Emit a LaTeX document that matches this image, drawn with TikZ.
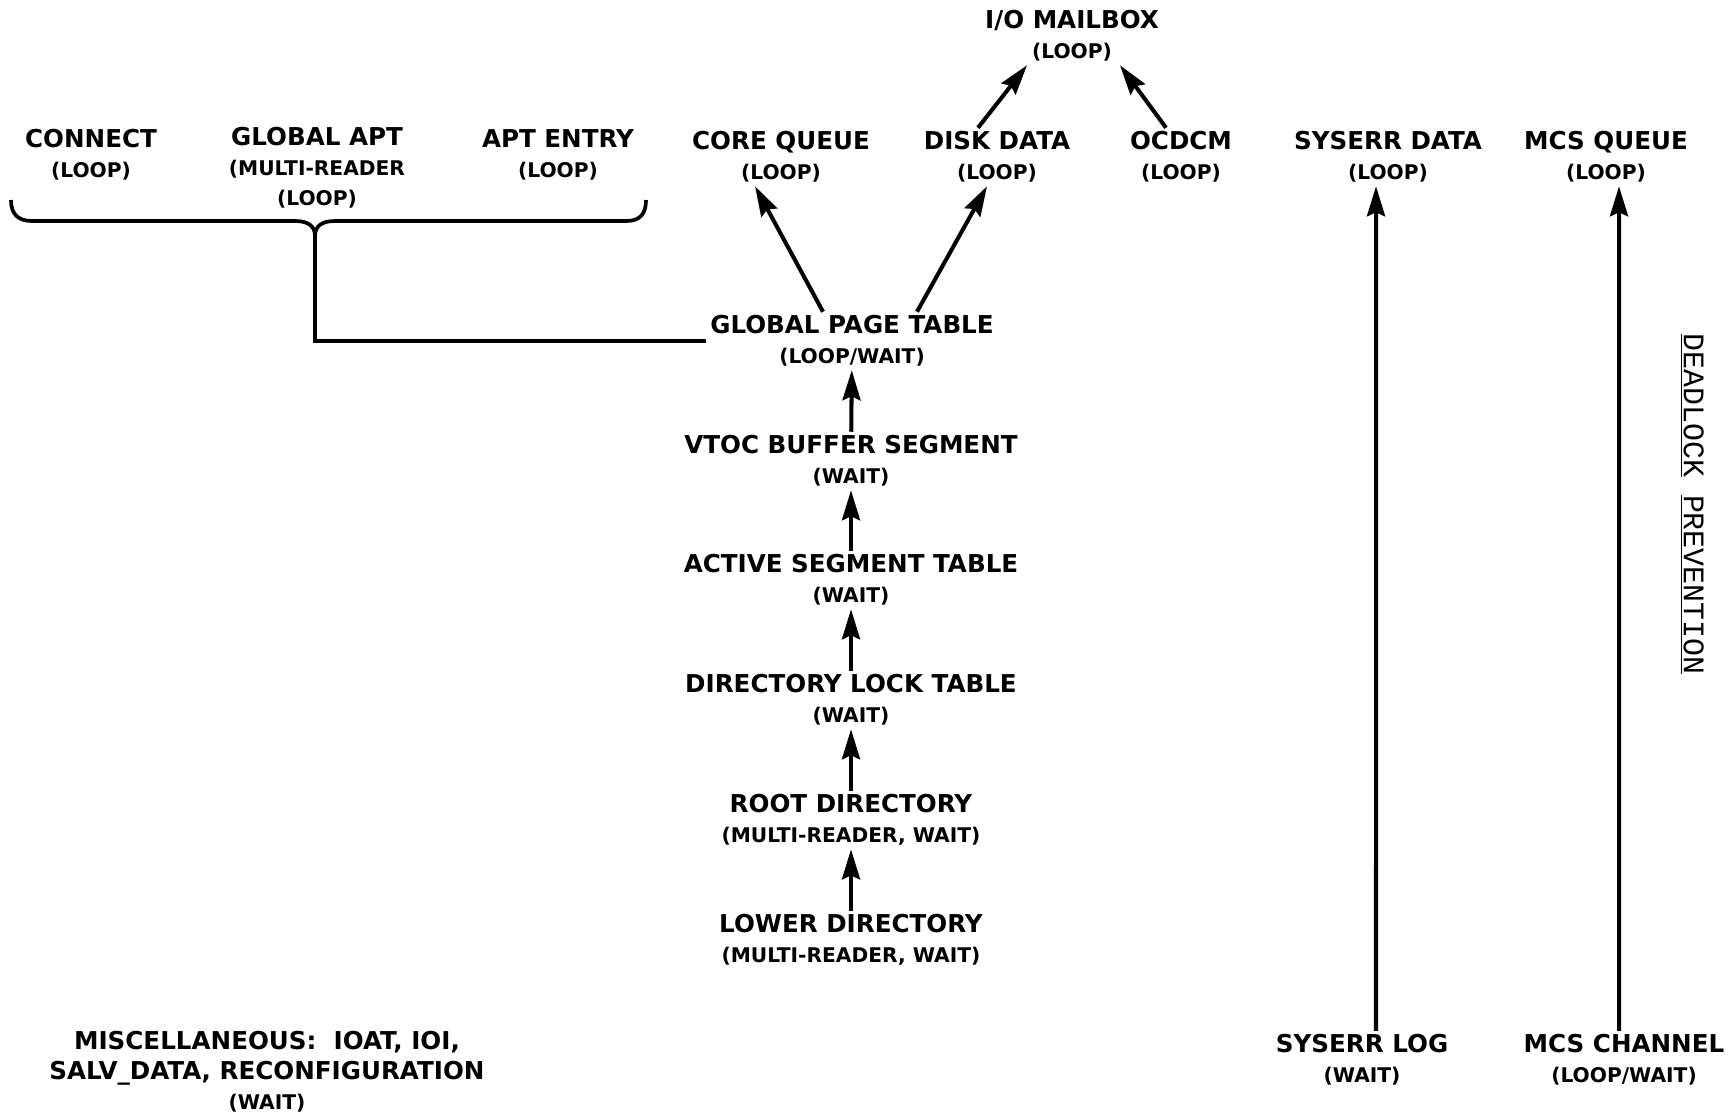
\documentclass[tikz,border=0pt]{standalone}
\usepackage{fontspec}
\setmainfont{DejaVu Sans}
\newfontfamily\typefont{Liberation Mono}
\usetikzlibrary{arrows.meta}

% smaller line under each lock name
\newcommand{\lockmode}[1]{{\fontsize{11.5}{14}\selectfont #1}}

\begin{document}
\begin{tikzpicture}[
    x=0.02cm, y=-0.02cm,
    lock/.style={align=center, inner sep=2pt, font=\fontsize{14}{17}\selectfont\bfseries},
    arrow/.style={-{Stealth[length=6mm, width=3.6mm, inset=0.8mm]}, line width=2.3pt},
    link/.style={line width=2.1pt}
]
\useasboundingbox (0,0) rectangle (1733,1119);

% Top row
\node[lock] (iomail) at (1072,36) {I/O MAILBOX\\\lockmode{(LOOP)}};
\node[lock] (connect) at (91,155) {CONNECT\\\lockmode{(LOOP)}};
\node[lock] (globalapt) at (317,168) {GLOBAL APT\\\lockmode{(MULTI-READER}\\\lockmode{(LOOP)}};
\node[lock] (aptentry) at (558,155) {APT ENTRY\\\lockmode{(LOOP)}};
\node[lock] (corequeue) at (781,157) {CORE QUEUE\\\lockmode{(LOOP)}};
\node[lock] (diskdata) at (997,157) {DISK DATA\\\lockmode{(LOOP)}};
\node[lock] (ocdcm) at (1181,157) {OCDCM\\\lockmode{(LOOP)}};
\node[lock] (syserrdata) at (1388,157) {SYSERR DATA\\\lockmode{(LOOP)}};
\node[lock] (mcsqueue) at (1606,157) {MCS QUEUE\\\lockmode{(LOOP)}};

% Central chain
\node[lock] (gpt) at (852,341) {GLOBAL PAGE TABLE\\\lockmode{(LOOP/WAIT)}};
\node[lock] (vtoc) at (851,461) {VTOC BUFFER SEGMENT\\\lockmode{(WAIT)}};
\node[lock] (ast) at (851,580) {ACTIVE SEGMENT TABLE\\\lockmode{(WAIT)}};
\node[lock] (dlt) at (851,700) {DIRECTORY LOCK TABLE\\\lockmode{(WAIT)}};
\node[lock] (root) at (851,820) {ROOT DIRECTORY\\\lockmode{(MULTI-READER, WAIT)}};
\node[lock] (lower) at (851,940) {LOWER DIRECTORY\\\lockmode{(MULTI-READER, WAIT)}};

% Bottom row
\node[lock] (misc) at (267,1072) {MISCELLANEOUS:\ \ IOAT, IOI,\\SALV\_DATA, RECONFIGURATION\\\lockmode{(WAIT)}};
\node[lock] (syserrlog) at (1362,1060) {SYSERR LOG\\\lockmode{(WAIT)}};
\node[lock] (mcschannel) at (1624,1060) {MCS CHANNEL\\\lockmode{(LOOP/WAIT)}};

% Side title
\node[rotate=-90, font=\typefont\fontsize{17}{20}\selectfont] (deadlock) at (1692,504) {\underline{DEADLOCK}\ \underline{PREVENTION}};

% Arrows
\draw[arrow] ([xshift=-5.8mm]gpt.north) -- ([xshift=-5.2mm]corequeue.south);
\draw[arrow] ([xshift=13mm]gpt.north) -- ([xshift=-2mm]diskdata.south);
\draw[arrow] ([xshift=-3.8mm]diskdata.north) -- ([xshift=-9mm]iomail.south);
\draw[arrow] ([xshift=-3mm]ocdcm.north) -- ([xshift=9.6mm]iomail.south);

\draw[arrow] (vtoc) -- (gpt);
\draw[arrow] (ast) -- (vtoc);
\draw[arrow] (dlt) -- (ast);
\draw[arrow] (root) -- (dlt);
\draw[arrow] (lower) -- (root);

\draw[arrow] ([xshift=2.8mm]syserrlog.north) -- ([xshift=-2.4mm]syserrdata.south);
\draw[arrow] ([xshift=-1mm]mcschannel.north) -- ([xshift=2.6mm]mcsqueue.south);

% Brace over the APT locks
\draw[link] (11,200) .. controls (11,214) and (18,221) .. (32,221) -- (295,221)
    .. controls (308,221) and (315,226) .. (315,236)
    .. controls (315,226) and (322,221) .. (335,221) -- (626,221)
    .. controls (640,221) and (646,214) .. (646,200);
\coordinate (bracetip) at (315,236);
\draw[link] (bracetip) |- (gpt.west);

\end{tikzpicture}
\end{document}
